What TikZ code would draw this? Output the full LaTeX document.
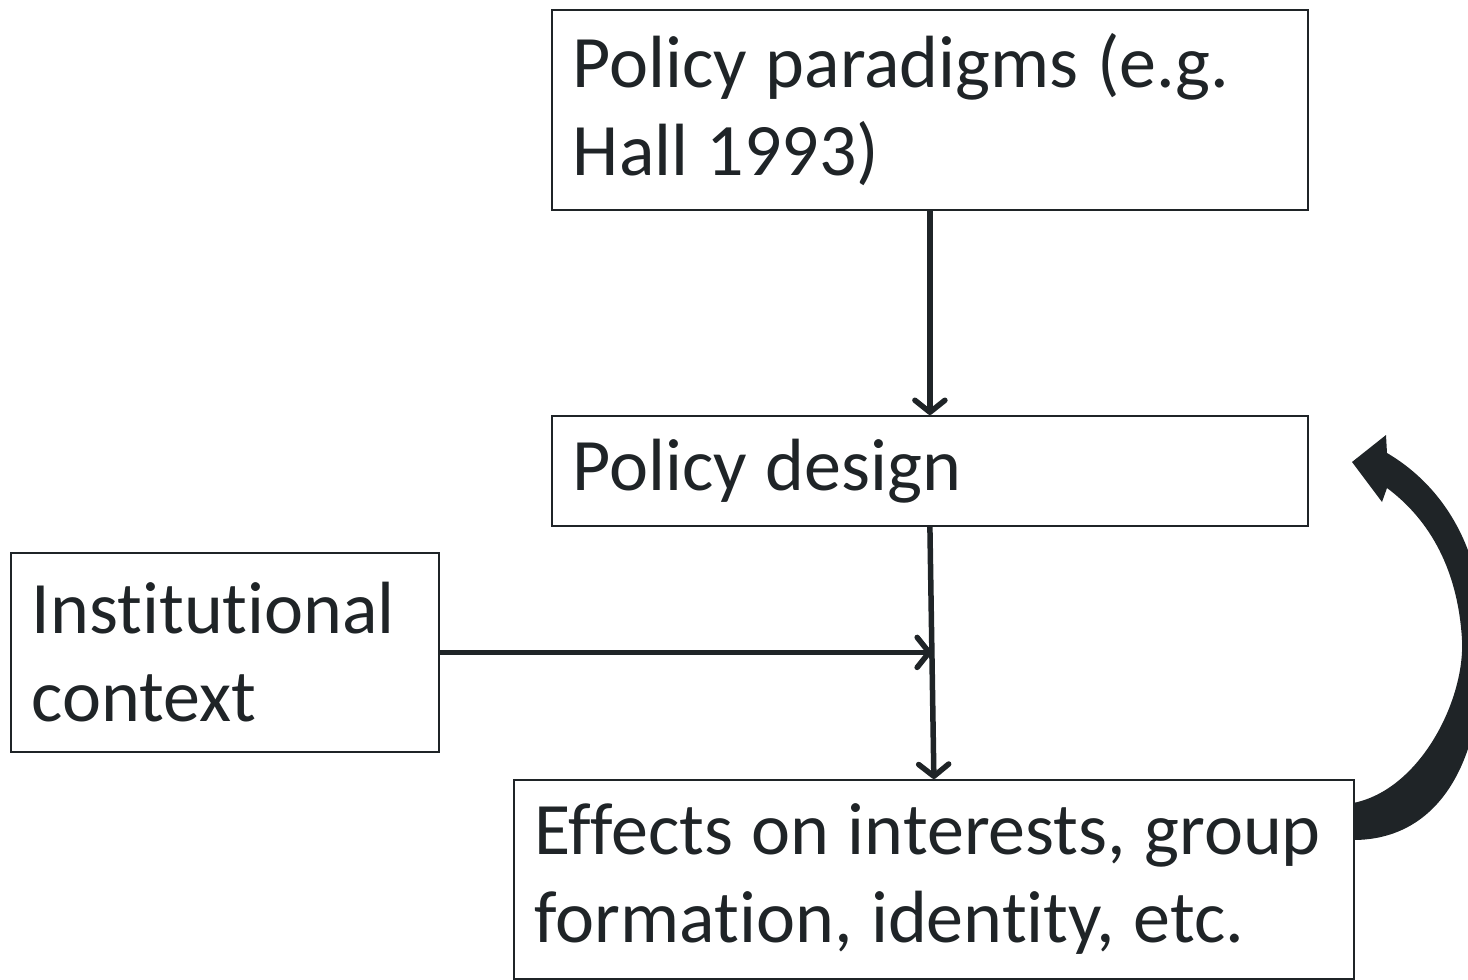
\documentclass[tikz,border=0pt]{standalone}
\usepackage{fontspec}
\setmainfont{Carlito}[Ligatures=CommonOff]
\usetikzlibrary{arrows.meta,calc}
\definecolor{dk}{HTML}{1F2427}
\newcommand\dn[1]{\raisebox{-5pt}{#1}}
\tikzset{
  box/.style={draw=dk, line width=1.8pt, fill=white, align=left, inner xsep=21pt, inner ysep=0pt,
    anchor=north west, font=\fontsize{74}{88}\selectfont, text=dk,
    execute at begin node={\spaceskip=18.5pt\relax}},
  conn/.style={draw=dk, line width=5.5pt, -{Straight Barb[length=12pt,width=30pt,line width=5.5pt,line cap=round,line join=round]}}
}
\begin{document}
\begin{tikzpicture}[x=1pt,y=-1pt]
\path[use as bounding box] (0,0) rectangle (1468,980);
\clip (0,0) rectangle (1468,980);
\node[box, minimum width=756pt, minimum height=200pt, text width=714pt] (para) at (551,9) {\dn{Policy paradigms (e.g.}\\\dn{Hall 1993)}};
\node[box, minimum width=756pt, minimum height=110pt, text width=714pt] (design) at (551,415) {\dn{Policy design}};
\node[box, minimum width=428pt, minimum height=199pt, text width=386pt] (inst) at (10,552) {Institutional\\context};
\node[box, minimum width=840pt, minimum height=199pt, text width=798pt] (eff) at (513,779) {\dn{Effects on interests, group}\\\dn{formation, identity, etc.}};
\coordinate (mid) at ($(design.south)!0.5!(eff.north)$);
\draw[conn] (para.south) -- (design.north);
\draw[conn] (design.south) -- (eff.north);
\draw[conn] (inst.east) -- (inst.east -| mid);
\fill[dk] (1353,803) .. controls (1420,790) and (1465,700) .. (1462,640)
  .. controls (1458,570) and (1430,520) .. (1387,488)
  -- (1382,502) -- (1352,462) -- (1386,435) -- (1387,453)
  .. controls (1450,490) and (1485,560) .. (1482,640)
  .. controls (1485,760) and (1440,840) .. (1353,840) -- cycle;
\end{tikzpicture}
\end{document}
